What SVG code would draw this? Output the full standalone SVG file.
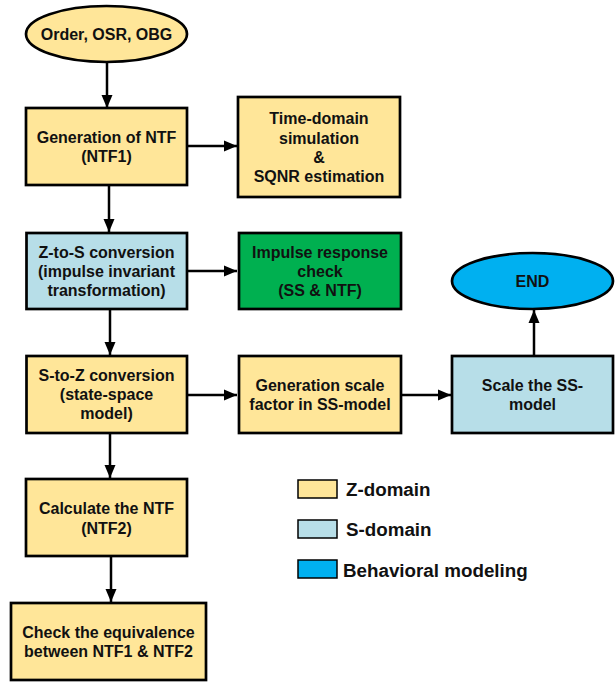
<svg xmlns="http://www.w3.org/2000/svg" width="616" height="683" viewBox="0 0 616 683">
<defs>
<style>
.z{fill:#FFE699;stroke:#000;stroke-width:2.7}
.s{fill:#B7DEE8;stroke:#000;stroke-width:2.7}
.g{fill:#00B050;stroke:#000;stroke-width:2.7}
.b{fill:#00B0F0;stroke:#000;stroke-width:2.7}
.t{font-family:"Liberation Sans",Arial,sans-serif;font-weight:bold;font-size:16px;fill:#111;text-anchor:middle}
.lg{font-family:"Liberation Sans",Arial,sans-serif;font-weight:bold;font-size:18.8px;fill:#111}
.c{stroke:#000;stroke-width:2.5;fill:none;marker-end:url(#ah)}
.sw{stroke:#000;stroke-width:1.5}
</style>
<marker id="ah" markerUnits="userSpaceOnUse" markerWidth="14" markerHeight="14" viewBox="0 0 14 14" refX="13" refY="7" orient="auto">
<path d="M0,1.5 L13,7 L0,12.5 Z" fill="#000"/>
</marker>
</defs>

<g id="connectors">
<line class="c" x1="107" y1="62" x2="107" y2="108"/>
<line class="c" x1="187" y1="146" x2="237" y2="146"/>
<line class="c" x1="109" y1="185" x2="109" y2="232"/>
<line class="c" x1="187" y1="271" x2="237" y2="271"/>
<line class="c" x1="110" y1="309" x2="110" y2="355"/>
<line class="c" x1="187" y1="395" x2="237" y2="395"/>
<line class="c" x1="401" y1="395" x2="451" y2="395"/>
<line class="c" x1="534" y1="356" x2="534" y2="310"/>
<line class="c" x1="110" y1="433" x2="110" y2="478"/>
<line class="c" x1="111" y1="556" x2="111" y2="602"/>
</g>

<g id="start">
<ellipse class="z" cx="106.5" cy="34" rx="80.5" ry="28"/>
<text class="t" x="106.5" y="39.5">Order, OSR, OBG</text>
</g>

<g id="gen-ntf">
<rect class="z" x="26" y="108" width="161" height="77"/>
<text class="t" x="106.5" y="143">Generation of NTF</text>
<text class="t" x="106.5" y="162">(NTF1)</text>
</g>

<g id="time-domain">
<rect class="z" x="238" y="97" width="162" height="100"/>
<text class="t" x="319" y="124">Time-domain</text>
<text class="t" x="319" y="143.5">simulation</text>
<text class="t" x="319" y="162.5">&amp;</text>
<text class="t" x="319" y="181.5">SQNR estimation</text>
</g>

<g id="z-to-s">
<rect class="s" x="26.5" y="233" width="160.5" height="76"/>
<text class="t" x="106.5" y="257.5">Z-to-S conversion</text>
<text class="t" x="106.5" y="276.5">(impulse invariant</text>
<text class="t" x="106.5" y="295.5">transformation)</text>
</g>

<g id="impulse-check">
<rect class="g" x="239" y="233" width="162" height="76"/>
<text class="t" x="320" y="257.5">Impulse response</text>
<text class="t" x="320" y="276.5">check</text>
<text class="t" x="320" y="295.5">(SS &amp; NTF)</text>
</g>

<g id="end">
<ellipse class="b" cx="532.5" cy="281" rx="80.5" ry="28"/>
<text class="t" x="532.5" y="286.5">END</text>
</g>

<g id="s-to-z">
<rect class="z" x="26.5" y="356" width="160.5" height="77"/>
<text class="t" x="106.5" y="381">S-to-Z conversion</text>
<text class="t" x="106.5" y="400">(state-space</text>
<text class="t" x="106.5" y="419">model)</text>
</g>

<g id="gen-scale">
<rect class="z" x="239" y="356" width="162" height="77"/>
<text class="t" x="320" y="390.5">Generation scale</text>
<text class="t" x="320" y="409.5">factor in SS-model</text>
</g>

<g id="scale-ss">
<rect class="s" x="452" y="356" width="161" height="77"/>
<text class="t" x="532.5" y="390.5">Scale the SS-</text>
<text class="t" x="532.5" y="409.5">model</text>
</g>

<g id="calc-ntf">
<rect class="z" x="26" y="479" width="161" height="77"/>
<text class="t" x="106.5" y="514">Calculate the NTF</text>
<text class="t" x="106.5" y="533.5">(NTF2)</text>
</g>

<g id="check-eq">
<rect class="z" x="11" y="603" width="195" height="77"/>
<text class="t" x="108.5" y="637.5">Check the equivalence</text>
<text class="t" x="108.5" y="657">between NTF1 &amp; NTF2</text>
</g>

<g id="legend">
<rect class="z sw" x="298" y="480" width="39" height="18"/>
<text class="lg" x="346" y="496">Z-domain</text>
<rect class="s sw" x="298" y="520" width="39" height="18"/>
<text class="lg" x="346" y="536">S-domain</text>
<rect class="b sw" x="298" y="560" width="39" height="18"/>
<text class="lg" x="343" y="576.5">Behavioral modeling</text>
</g>
</svg>
